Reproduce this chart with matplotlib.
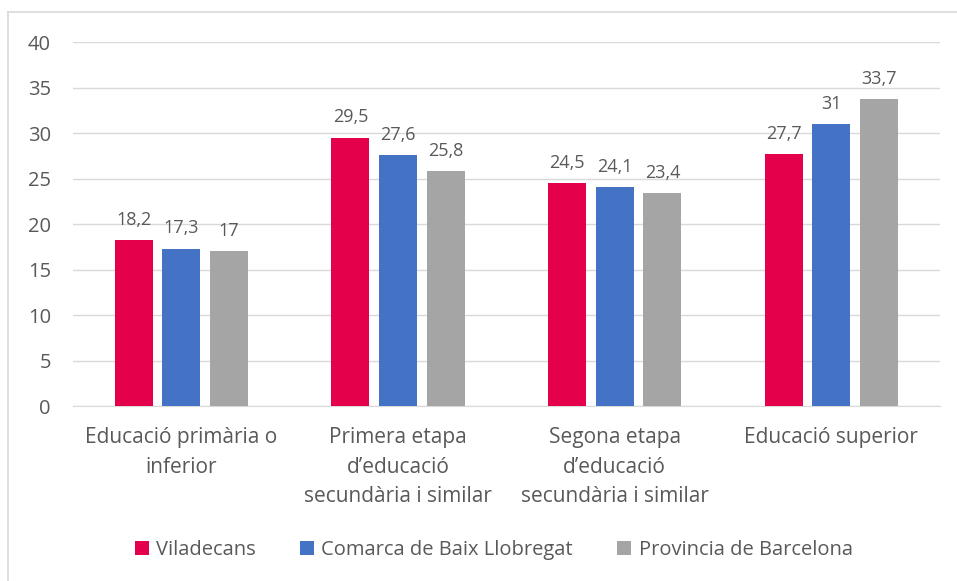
import matplotlib
matplotlib.use("Agg")
import matplotlib.pyplot as plt
import numpy as np
from matplotlib.lines import Line2D

categories = ["Educació primària o\ninferior",
              "Primera etapa\nd\u2019educació\nsecundària i similar",
              "Segona etapa\nd\u2019educació\nsecundària i similar",
              "Educació superior"]
series = ["Viladecans", "Comarca de Baix Llobregat", "Provincia de Barcelona"]
viladecans = [18.2, 29.5, 24.5, 27.7]
baix_llobregat = [17.3, 27.6, 24.1, 31]
barcelona = [17, 25.8, 23.4, 33.7]
colors = ["#E4004B", "#4472C4", "#A5A5A5"]

plt.rcParams["font.family"] = ["Open Sans", "DejaVu Sans"]
txt = "#595959"

fig = plt.figure(figsize=(9.57, 5.81), dpi=100)
ax = fig.add_axes([0.0763, 0.3012, 0.9057, 0.6265])

# chart border (only top and left edges visible)
W, H = 957, 581
fig.add_artist(Line2D([8/W, 1], [1 - 12/H, 1 - 12/H], transform=fig.transFigure,
                      color="#D9D9D9", linewidth=1.2))
fig.add_artist(Line2D([8/W, 8/W], [0, 1 - 12/H], transform=fig.transFigure,
                      color="#D9D9D9", linewidth=1.2))

x = np.arange(len(categories))
w = 0.175
offs = [-0.22, 0, 0.22]
for vals, off, c, name in zip([viladecans, baix_llobregat, barcelona], offs, colors, series):
    bars = ax.bar(x + off, vals, width=w, color=c, label=name, zorder=3)
    for b, v in zip(bars, vals):
        lab = f"{v:g}".replace(".", ",")
        ax.annotate(lab, (b.get_x() + b.get_width()/2, v), xytext=(0, 8),
                    textcoords="offset points", ha="center", va="bottom",
                    fontsize=13, color=txt)

ax.set_xlim(-0.5, 3.5)
ax.set_ylim(0, 40)
ax.set_yticks(range(0, 41, 5))
ax.yaxis.grid(True, color="#D9D9D9", linewidth=1, zorder=0)
ax.set_axisbelow(True)
for s in ["top", "right", "left"]:
    ax.spines[s].set_visible(False)
ax.spines["bottom"].set_color("#D9D9D9")
ax.tick_params(axis="both", length=0, labelsize=14.5, colors=txt)
ax.tick_params(axis="y", pad=16)
ax.tick_params(axis="x", pad=15, labelsize=15)
ax.set_xticks(x)
ax.set_xticklabels(categories, linespacing=1.55)

leg = fig.legend(loc="center", bbox_to_anchor=(0.516, 0.053), ncol=3, frameon=False,
                 fontsize=14.5, handlelength=0.7, handleheight=0.7, handletextpad=0.35,
                 columnspacing=2.2, labelcolor=txt)

fig.savefig("out.png", dpi=100)
